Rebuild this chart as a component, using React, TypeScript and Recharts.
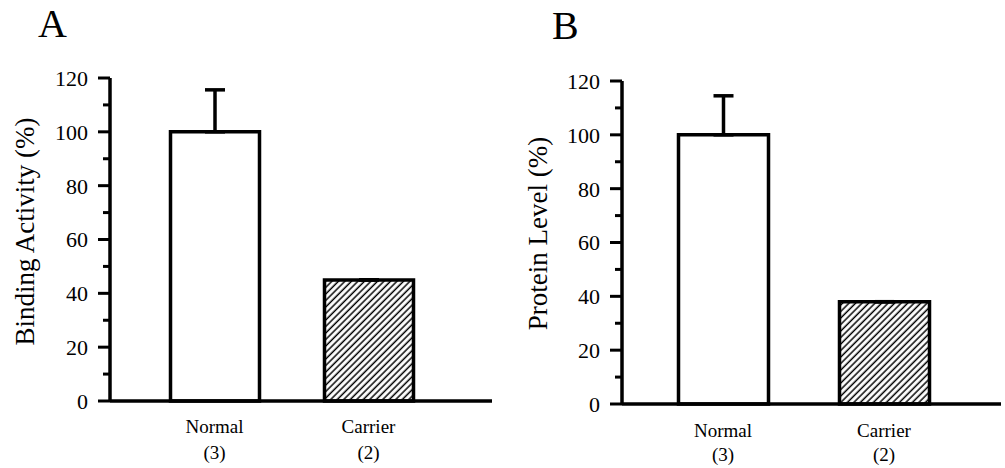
import React from 'react';
import { BarChart, Bar, XAxis, YAxis, ErrorBar, Cell } from 'recharts';

const categories = ['Normal', 'Carrier'];
const sampleSizes = ['(3)', '(2)'];
const bindingActivity = [100, 45];
const bindingError = [15.6, 0];
const proteinLevel = [100, 38];
const proteinError = [14.5, 0];
const yTicks = [0, 10, 20, 30, 40, 50, 60, 70, 80, 90, 100, 110, 120];
const majorTicks = [0, 20, 40, 60, 80, 100, 120];

const FONT = '"Liberation Serif", "DejaVu Serif", serif';

const dataA = categories.map((c, i) => ({ name: c, n: sampleSizes[i], value: bindingActivity[i], err: [0, bindingError[i]] }));
const dataB = categories.map((c, i) => ({ name: c, n: sampleSizes[i], value: proteinLevel[i], err: [0, proteinError[i]] }));

const YTick = (props: any) => {
  const { x, y, payload } = props;
  const v = payload.value;
  const major = majorTicks.includes(v);
  const len = major ? 12 : 7;
  return (
    <g>
      <line x1={x - len} x2={x} y1={y} y2={y} stroke="#000" strokeWidth={3} />
      {major && (
        <text x={x - 22} y={y} dy="0.36em" textAnchor="end" fontFamily={FONT} fontSize={22} fill="#000">
          {v}
        </text>
      )}
    </g>
  );
};

const makeXTick = (data: any[], d1: number, d2: number) => (props: any) => {
  const { x, y, payload, index } = props;
  const n = data[index] ? data[index].n : '';
  return (
    <g>
      <text x={x} y={y + d1} textAnchor="middle" fontFamily={FONT} fontSize={19} fill="#000">{payload.value}</text>
      <text x={x} y={y + d2} textAnchor="middle" fontFamily={FONT} fontSize={19} fill="#000">{n}</text>
    </g>
  );
};

const makeYLabel = (text: string, bx: number, dyc: number) => (props: any) => {
  const vb = props.viewBox || { x: 0, y: 0, width: 0, height: 0 };
  const cx = vb.x + bx;
  const cy = vb.y + vb.height / 2 + dyc;
  return (
    <text transform={`translate(${cx}, ${cy}) rotate(-90)`} textAnchor="middle" fontFamily={FONT} fontSize={27} fill="#000">
      {text}
    </text>
  );
};

const Pattern = ({ id }: { id: string }) => (
  <defs>
    <pattern id={id} patternUnits="userSpaceOnUse" width={4.6} height={4.6} patternTransform="rotate(45)">
      <rect width={4.6} height={4.6} fill="#fff" />
      <line x1={1.2} y1={0} x2={1.2} y2={4.6} stroke="#000" strokeWidth={1.5} />
    </pattern>
  </defs>
);

export default function App() {
  return (
    <div style={{ position: 'absolute', left: 0, top: 0, width: 1005, height: 468, background: '#fff' }}>
      <div style={{ position: 'absolute', left: 38, top: 0, fontFamily: FONT, fontSize: 40, lineHeight: '48px' }}>A</div>
      <div style={{ position: 'absolute', left: 552, top: 2, fontFamily: FONT, fontSize: 40, lineHeight: '48px' }}>B</div>
      <div style={{ position: 'absolute', left: 0, top: 0 }}>
        <BarChart width={500} height={468} data={dataA} margin={{ top: 78, right: 8, bottom: 0, left: 0 }}>
          <Pattern id="hatchA" />
          <XAxis
            dataKey="name"
            height={67}
            padding={{ left: 27.5, right: 46.5 }}
            axisLine={{ stroke: '#000', strokeWidth: 3.5 }}
            tickLine={false}
            tickSize={0}
            tickMargin={0}
            interval={0}
            tick={makeXTick(dataA, 32, 58)}
          />
          <YAxis
            width={110}
            domain={[0, 120]}
            ticks={yTicks}
            interval={0}
            axisLine={{ stroke: '#000', strokeWidth: 3.5 }}
            tickLine={false}
            tickSize={0}
            tickMargin={0}
            tick={<YTick />}
            label={{ content: makeYLabel('Binding Activity (%)', 34, -8) }}
          />
          <Bar dataKey="value" barSize={89} stroke="#000" strokeWidth={3.5} isAnimationActive={false}>
            {dataA.map((d, i) => (
              <Cell key={i} fill={i === 0 ? '#fff' : 'url(#hatchA)'} />
            ))}
            <ErrorBar dataKey="err" width={10} stroke="#000" strokeWidth={3.5} direction="y" />
          </Bar>
        </BarChart>
      </div>
      <div style={{ position: 'absolute', left: 500, top: 0 }}>
        <BarChart width={505} height={468} data={dataB} margin={{ top: 81, right: 4, bottom: 0, left: 0 }}>
          <Pattern id="hatchB" />
          <XAxis
            dataKey="name"
            height={64}
            padding={{ left: 20.5, right: 36.5 }}
            axisLine={{ stroke: '#000', strokeWidth: 3.5 }}
            tickLine={false}
            tickSize={0}
            tickMargin={0}
            interval={0}
            tick={makeXTick(dataB, 33, 57)}
          />
          <YAxis
            width={122}
            domain={[0, 120]}
            ticks={yTicks}
            interval={0}
            axisLine={{ stroke: '#000', strokeWidth: 3.5 }}
            tickLine={false}
            tickSize={0}
            tickMargin={0}
            tick={<YTick />}
            label={{ content: makeYLabel('Protein Level (%)', 47, -9) }}
          />
          <Bar dataKey="value" barSize={90} stroke="#000" strokeWidth={3.5} isAnimationActive={false}>
            {dataB.map((d, i) => (
              <Cell key={i} fill={i === 0 ? '#fff' : 'url(#hatchB)'} />
            ))}
            <ErrorBar dataKey="err" width={10} stroke="#000" strokeWidth={3.5} direction="y" />
          </Bar>
        </BarChart>
      </div>
    </div>
  );
}
